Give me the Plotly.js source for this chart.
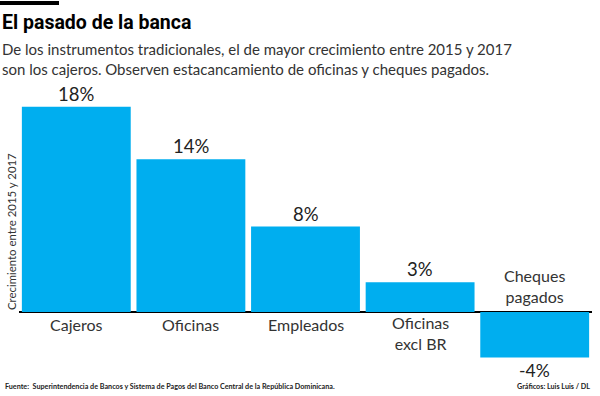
<!DOCTYPE html>
<html><head><meta charset="utf-8">
<script src="https://cdn.plot.ly/plotly-3.0.1.min.js"></script>
<style>html,body{margin:0;padding:0;background:#fff}#chart{width:600px;height:396px}</style>
</head><body><div id="chart"></div>
<script>
const categories = ["Cajeros", "Oficinas", "Empleados", "Oficinas<br>excl BR", "Cheques<br>pagados"];
const values = [18, 13.4, 7.5, 2.6, -4];
const valueLabels = ["18%", "14%", "8%", "3%", "-4%"];
const titleText = "El pasado de la banca";
const subtitleText = "De los instrumentos tradicionales, el de mayor crecimiento entre 2015 y 2017<br>son los cajeros. Observen estacancamiento de oficinas y cheques pagados.";
const yTitleText = "Crecimiento entre 2015 y 2017";
const sourceText = "Fuente:  Superintendencia de Bancos y Sistema de Pagos del Banco Central de la República Dominicana.";
const creditText = "Gráficos: Luis Luis / DL";

const BLUE = "#00aeef";
const FONT = "Lato";
const L = -19 / 573;

const trace = {
  type: "bar",
  x: categories,
  y: values,
  marker: {color: BLUE},
  hoverinfo: "skip"
};

const annotations = [];
categories.forEach((c, i) => {
  const pos = values[i] >= 0;
  const n = c.split("<br>").length;
  annotations.push({
    xref: "x", yref: "y", x: c, y: 0,
    text: c, showarrow: false,
    yanchor: pos ? "top" : "bottom",
    yshift: pos ? (n > 1 ? 1 : -1) : 4,
    font: {family: FONT, size: 16, color: "#333"}
  });
  annotations.push({
    xref: "x", yref: "y", x: c, y: values[i],
    text: valueLabels[i], showarrow: false,
    yanchor: pos ? "bottom" : "top",
    yshift: 0,
    font: {family: FONT, size: pos ? 18.5 : 17.5, color: "#222"}
  });
});
annotations.push(
  {xref: "paper", yref: "paper", x: L, y: 1, xanchor: "left", yanchor: "top",
   yshift: 84 - 9, text: "<b>" + titleText + "</b>", showarrow: false,
   font: {family: "Roboto", size: 19.5, color: "#000", weight: 900}},
  {xref: "paper", yref: "paper", x: L, y: 1, xanchor: "left", yanchor: "top",
   yshift: 84 - 38, text: subtitleText, showarrow: false, align: "left",
   font: {family: FONT, size: 15, color: "#333"}},
  {xref: "paper", yref: "y", x: L, y: 0, xanchor: "left", yanchor: "bottom",
   xshift: 3, text: yTitleText, textangle: -90, showarrow: false,
   font: {family: FONT, size: 11.4, color: "#333"}},
  {xref: "paper", yref: "paper", x: L, y: 0, xanchor: "left", yanchor: "middle",
   xshift: 3, yshift: -27 + 10, text: "<b>" + sourceText + "</b>", showarrow: false,
   font: {family: FONT, size: 7.2, color: "#222"}},
  {xref: "paper", yref: "paper", x: 1, y: 0, xanchor: "right", yanchor: "middle",
   xshift: 0, yshift: -27 + 10, text: "<b>" + creditText + "</b>", showarrow: false,
   font: {family: FONT, size: 7.2, color: "#222"}}
);

const layout = {
  width: 600, height: 396,
  margin: {l: 19, r: 8, t: 84, b: 27},
  paper_bgcolor: "#fff", plot_bgcolor: "#fff",
  showlegend: false,
  bargap: 0.05,
  xaxis: {showticklabels: false, showgrid: false, zeroline: false, ticks: "", showline: false},
  yaxis: {range: [-5, 20], showticklabels: false, showgrid: false, ticks: "",
          zeroline: true, zerolinecolor: "#000", zerolinewidth: 2, showline: false},
  annotations: annotations,
  shapes: [{type: "rect", xref: "paper", yref: "paper", x0: L, x1: 40 / 573,
            ysizemode: "pixel", yanchor: 1, y0: 79, y1: 83,
            line: {width: 0}, fillcolor: "#000"}]
};

Plotly.newPlot("chart", [trace], layout, {displayModeBar: false, staticPlot: true});
</script></body></html>
